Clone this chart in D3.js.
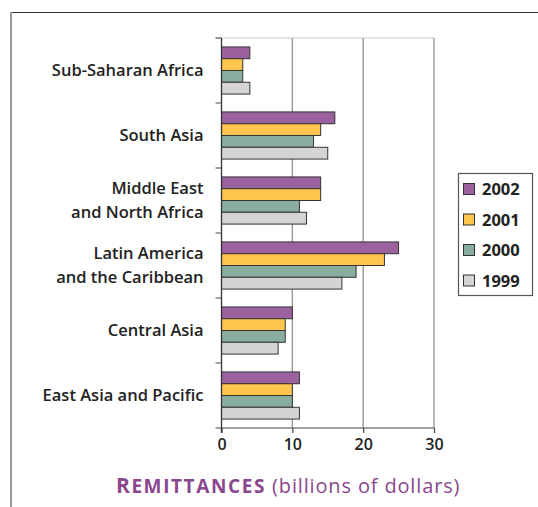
<!DOCTYPE html>
<html>
<head>
<meta charset="utf-8">
<script src="https://cdn.jsdelivr.net/npm/d3@7"></script>
<style>
  body { margin: 0; background: #fff; }
  text { font-family: "Open Sans", sans-serif; }
</style>
</head>
<body>
<div id="chart"></div>
<script>
//***************** data *******************/
var regions = [
  ["Sub-Saharan Africa"],
  ["South Asia"],
  ["Middle East", "and North Africa"],
  ["Latin America", "and the Caribbean"],
  ["Central Asia"],
  ["East Asia and Pacific"]
];
var years = ["2002", "2001", "2000", "1999"];
var v2002 = [4, 16, 14, 25, 10, 11];
var v2001 = [3, 14, 14, 23, 9, 10];
var v2000 = [3, 13, 11, 19, 9, 10];
var v1999 = [4, 15, 12, 17, 8, 11];
var xTicks = [0, 10, 20, 30];
var colors = ["#9c62a0", "#ffc54e", "#89ad9e", "#d4d4d6"];

var series = [v2002, v2001, v2000, v1999];

//************* set dimensions ***************/
var W = 538, H = 507;
var margin = {left: 221.5, top: 38, right: 104, bottom: 79};
var width = W - margin.left - margin.right,
    height = H - margin.top - margin.bottom;

var svg = d3.select("#chart").append("svg")
  .attr("width", W)
  .attr("height", H);

// frame lines
svg.append("line")
  .attr("x1", 10).attr("x2", W).attr("y1", 12.5).attr("y2", 12.5)
  .attr("stroke", "#333").attr("stroke-width", 1.2);
svg.append("line")
  .attr("x1", 11).attr("x2", 11).attr("y1", 12).attr("y2", H)
  .attr("stroke", "#999").attr("stroke-width", 2);

var g = svg.append("g")
  .attr("transform", "translate(" + margin.left + "," + margin.top + ")");

//***************** scales *******************/
var x = d3.scaleLinear().domain([0, 30]).range([0, 212.5]);
var y0 = d3.scaleBand()
  .domain(d3.range(regions.length))
  .range([0, height])
  .paddingInner(0.275)
  .paddingOuter(0.1375);
var y1 = d3.scaleBand()
  .domain(years)
  .range([0, y0.bandwidth()]);

//***************** gridlines *******************/
g.append("line")
  .attr("x1", -6).attr("x2", x(30)).attr("y1", 0).attr("y2", 0)
  .attr("stroke", "#ccc").attr("stroke-width", 1);

g.selectAll(".grid")
  .data(xTicks.slice(1))
  .enter().append("line")
  .attr("class", "grid")
  .attr("x1", function(d) { return x(d); })
  .attr("x2", function(d) { return x(d); })
  .attr("y1", 0).attr("y2", height)
  .attr("stroke", "#999").attr("stroke-width", 1.4);

//***************** bars *******************/
series.forEach(function(vals, si) {
  g.selectAll(".bar" + si)
    .data(vals)
    .enter().append("rect")
    .attr("x", x(0))
    .attr("y", function(d, i) { return y0(i) + y1(years[si]); })
    .attr("width", function(d) { return x(d) - x(0); })
    .attr("height", y1.bandwidth())
    .attr("fill", colors[si])
    .attr("stroke", "#333")
    .attr("stroke-width", 1);
});

//***************** axes *******************/
var xAxis = g.append("g")
  .attr("transform", "translate(0," + height + ")")
  .call(d3.axisBottom(x).tickValues(xTicks).tickSize(5).tickPadding(6));
xAxis.select(".domain").remove();
xAxis.append("line")
  .attr("x1", -6).attr("x2", x(30)).attr("y1", 0).attr("y2", 0)
  .attr("stroke", "#444").attr("stroke-width", 1.2);
xAxis.selectAll(".tick line").attr("stroke", "#444").attr("stroke-width", 1.2);
xAxis.selectAll(".tick text")
  .attr("font-family", "Open Sans, sans-serif")
  .attr("font-size", "16px")
  .attr("font-weight", 600)
  .attr("fill", "#222");

// y axis line + category boundary ticks
g.append("line")
  .attr("x1", 0).attr("x2", 0).attr("y1", 0).attr("y2", height + 5)
  .attr("stroke", "#333").attr("stroke-width", 1.3);
var step = y0.step();
g.selectAll(".ytick")
  .data(d3.range(regions.length))
  .enter().append("line")
  .attr("x1", -6).attr("x2", 0)
  .attr("y1", function(d) { return y0(d) - step * 0.1375; })
  .attr("y2", function(d) { return y0(d) - step * 0.1375; })
  .attr("stroke", "#444").attr("stroke-width", 1);

// category labels
var lbl = g.selectAll(".lbl")
  .data(regions)
  .enter().append("text")
  .attr("text-anchor", "end")
  .attr("font-size", "16.5px")
  .attr("font-weight", 600)
  .attr("fill", "#222")
  .attr("transform", function(d, i) {
    return "translate(-18," + (y0(i) + y0.bandwidth() / 2) + ")";
  });
lbl.selectAll("tspan")
  .data(function(d) { return d.map(function(s, k) { return {s: s, k: k, n: d.length}; }); })
  .enter().append("tspan")
  .attr("x", 0)
  .attr("y", function(d) { return (d.k - (d.n - 1) / 2) * 24 + 5.5; })
  .text(function(d) { return d.s; });

//***************** legend *******************/
var lg = svg.append("g").attr("transform", "translate(458,173)");
lg.append("rect")
  .attr("x", 0.5).attr("y", 0.5).attr("width", 74).attr("height", 122)
  .attr("fill", "#fff").attr("stroke", "#555").attr("stroke-width", 1.2);
years.forEach(function(yr, i) {
  var row = lg.append("g").attr("transform", "translate(0," + (16 + i * 30.5) + ")");
  row.append("rect")
    .attr("x", 5.5).attr("y", -5.5).attr("width", 11).attr("height", 11)
    .attr("fill", colors[i]).attr("stroke", "#333").attr("stroke-width", 1);
  row.append("text")
    .attr("x", 24).attr("y", 6)
    .attr("font-size", "16.5px").attr("font-weight", 700).attr("fill", "#222")
    .text(yr);
});

//***************** title *******************/
var title = svg.append("text")
  .attr("x", 116).attr("y", 493)
  .attr("fill", "#8a478d");
title.append("tspan").attr("font-size", "21px").attr("font-weight", 700)
  .attr("letter-spacing", "1.5px").text("R");
title.append("tspan").attr("font-size", "19px").attr("font-weight", 700)
  .attr("letter-spacing", "1.6px").text("EMITTANCES");
title.append("tspan").attr("font-size", "20px").attr("font-weight", 400)
  .attr("letter-spacing", "0.85px").text(" (billions of dollars)");
</script>
</body>
</html>
